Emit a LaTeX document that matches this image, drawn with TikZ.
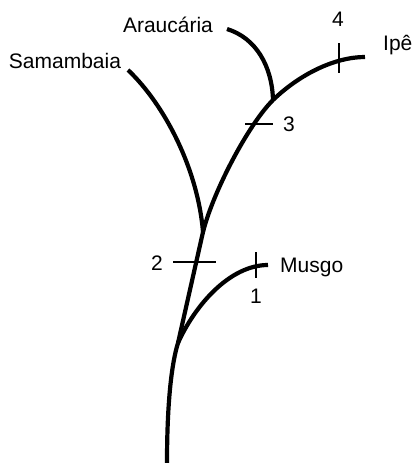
\documentclass[tikz,border=0pt]{standalone}
\usepackage{fontspec}
\setmainfont{Liberation Sans}
\usetikzlibrary{positioning}

\begin{document}
\begin{tikzpicture}[
    x=1pt, y=-1pt,
    branch/.style={line width=4.2pt, line cap=butt},
    tick/.style={line width=2pt},
    taxon/.style={inner sep=0pt, font=\fontsize{21}{25}\selectfont},
    num/.style={inner sep=0pt, font=\fontsize{21}{25}\selectfont}
]
\useasboundingbox (0,0) rectangle (412,463);

% Junctions and tips
\coordinate (root) at (167,463);
\coordinate (j1) at (178,343);
\coordinate (j2) at (203,232);
\coordinate (j3) at (273,100);
\coordinate (musgo) at (268,265);
\coordinate (samambaia) at (128,70);
\coordinate (araucaria) at (227,29);
\coordinate (ipe) at (365,57);

% Tree
\draw[branch] (root) .. controls (167,400) and (172,362) .. (j1)
    -- (j2) .. controls (213,192) and (248,125) .. (j3)
    .. controls (300,74) and (335,57) .. (ipe);
\draw[branch] (j1) .. controls (195,305) and (230,265) .. (musgo);
\draw[branch] (samambaia) .. controls (165,105) and (198,170) .. (j2);
\draw[branch] (araucaria) .. controls (256,38) and (272,66) .. (j3);

% Ticks
\coordinate (t1a) at (256,252); \coordinate (t1b) at (256,278);
\coordinate (t2a) at (173,262); \coordinate (t2b) at (216,262);
\coordinate (t3a) at (245,124); \coordinate (t3b) at (273,124);
\coordinate (t4a) at (339,43);  \coordinate (t4b) at (339,73);
\draw[tick] (t1a) -- (t1b);
\draw[tick] (t2a) -- (t2b);
\draw[tick] (t3a) -- (t3b);
\draw[tick] (t4a) -- (t4b);

% Labels
\node[taxon, anchor=base] (lsam) at (65,68) {Samambaia};
\node[taxon, anchor=base] (lara) at (168,32) {Araucária};
\node[taxon, anchor=base west] (lipe) at (383,50) {Ipê};
\node[taxon, anchor=base west] (lmus) at (280,272) {Musgo};

\node[num, anchor=base] (n1) at (256,303) {1};
\node[num, anchor=base] (n2) at (157,270) {2};
\node[num, anchor=base] (n3) at (289,131) {3};
\node[num, anchor=base] (n4) at (338,27) {4};

\end{tikzpicture}
\end{document}
